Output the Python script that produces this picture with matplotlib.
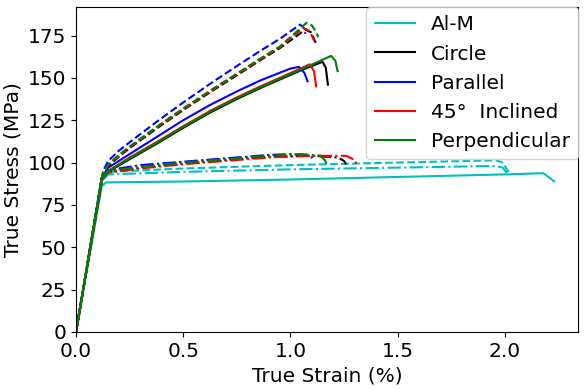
import matplotlib
matplotlib.use('Agg')
import matplotlib.pyplot as plt
from matplotlib.lines import Line2D

# legend entries and colours
labels = ['Al-M', 'Circle', 'Parallel', '45°  Inclined', 'Perpendicular']
colors = ['c', 'k', 'b', 'r', 'g']

# Al-M curves (strain %, stress MPa)
alm_solid_x = [0, 0.12, 0.14, 0.5, 1.0, 1.5, 2.0, 2.18, 2.23]
alm_solid_y = [0, 86, 88.3, 88.8, 90, 91.5, 93, 93.7, 89]
alm_dash_x = [0, 0.12, 0.15, 0.5, 1.0, 1.5, 1.96, 1.99, 2.02]
alm_dash_y = [0, 90, 94.5, 96.5, 98.5, 100, 101.3, 100, 94]
alm_dashdot_x = [0, 0.12, 0.15, 0.5, 1.0, 1.5, 1.96, 1.99, 2.01]
alm_dashdot_y = [0, 89, 93, 94.5, 96, 97, 98, 97, 94]

# Circle
circle_solid_x = [0, 0.12, 0.15, 0.25, 0.375, 0.5, 0.625, 0.75, 0.86, 0.95, 1.05, 1.15, 1.165, 1.175]
circle_solid_y = [0, 90, 94.5, 102, 111, 120.5, 129.5, 137.5, 144, 149, 154.5, 159.5, 156, 146]
circle_dash_x = [0, 0.126, 0.15, 0.2, 0.25, 0.375, 0.5, 0.625, 0.75, 0.86, 0.95, 1.07, 1.095, 1.11, 1.12]
circle_dash_y = [0, 93, 98, 103.5, 108.5, 120, 131, 141.5, 151.5, 160.5, 167.5, 178.5, 177, 173, 170]
circle_dashdot_x = [0, 0.12, 0.15, 0.3, 0.5, 0.7, 0.9, 1.1, 1.22, 1.25, 1.26]
circle_dashdot_y = [0, 91, 94.5, 97, 99.5, 101.5, 103.5, 104, 103, 101, 99]

# Parallel
parallel_solid_x = [0, 0.12, 0.15, 0.25, 0.375, 0.5, 0.625, 0.75, 0.86, 0.95, 1.0, 1.04, 1.065, 1.08]
parallel_solid_y = [0, 91, 97, 105, 115, 125, 134, 142, 148.5, 153, 155.5, 156.5, 153, 148]
parallel_dash_x = [0, 0.126, 0.15, 0.2, 0.25, 0.375, 0.5, 0.625, 0.75, 0.86, 0.95, 1.045, 1.06, 1.07]
parallel_dash_y = [0, 95, 101, 107, 112, 124, 135.5, 146.5, 157, 166, 173, 181.5, 180, 176]
parallel_dashdot_x = [0, 0.12, 0.15, 0.3, 0.5, 0.7, 0.9, 1.0, 1.07, 1.1, 1.11]
parallel_dashdot_y = [0, 91, 95.5, 98.5, 100.5, 102.5, 104.5, 105, 104.5, 103, 101]

# 45 deg inclined
incl_solid_x = [0, 0.12, 0.15, 0.25, 0.375, 0.5, 0.625, 0.75, 0.86, 0.95, 1.02, 1.09, 1.11, 1.12]
incl_solid_y = [0, 90.5, 95, 103, 112, 121.5, 130.5, 138.5, 145, 150, 154, 158, 154, 145]
incl_dash_x = [0, 0.126, 0.15, 0.2, 0.25, 0.375, 0.5, 0.625, 0.75, 0.86, 0.95, 1.06, 1.085, 1.1, 1.11]
incl_dash_y = [0, 93.5, 98.5, 104, 109, 120.5, 131.5, 142, 152, 161, 168, 179.5, 178, 175, 172]
incl_dashdot_x = [0, 0.12, 0.15, 0.3, 0.5, 0.7, 0.9, 1.1, 1.26, 1.3, 1.31]
incl_dashdot_y = [0, 90.5, 94, 96.5, 99, 101, 103, 104, 104, 101.5, 98.6]

# Perpendicular
perp_solid_x = [0, 0.12, 0.15, 0.25, 0.375, 0.5, 0.625, 0.75, 0.86, 0.95, 1.05, 1.19, 1.21, 1.22]
perp_solid_y = [0, 90.5, 95, 102.5, 111.5, 121, 130, 138, 144.5, 149.5, 155, 163, 160, 154]
perp_dash_x = [0, 0.126, 0.15, 0.2, 0.25, 0.375, 0.5, 0.625, 0.75, 0.86, 0.95, 1.075, 1.1, 1.12, 1.13]
perp_dash_y = [0, 94, 99, 104.5, 109.5, 121, 132, 142.5, 152.5, 161.5, 168.5, 182.5, 181, 177, 174]
perp_dashdot_x = [0, 0.12, 0.15, 0.3, 0.5, 0.7, 0.9, 1.05, 1.14, 1.16, 1.17]
perp_dashdot_y = [0, 91, 95, 97.5, 100, 102, 104, 105, 104, 101.5, 99]

curves = [
    (alm_solid_x, alm_solid_y, alm_dash_x, alm_dash_y, alm_dashdot_x, alm_dashdot_y),
    (circle_solid_x, circle_solid_y, circle_dash_x, circle_dash_y, circle_dashdot_x, circle_dashdot_y),
    (parallel_solid_x, parallel_solid_y, parallel_dash_x, parallel_dash_y, parallel_dashdot_x, parallel_dashdot_y),
    (incl_solid_x, incl_solid_y, incl_dash_x, incl_dash_y, incl_dashdot_x, incl_dashdot_y),
    (perp_solid_x, perp_solid_y, perp_dash_x, perp_dash_y, perp_dashdot_x, perp_dashdot_y),
]

plt.rcParams['font.size'] = 14.5

fig = plt.figure(figsize=(5.85, 3.9), dpi=100)
ax = fig.add_axes([0.13, 0.149, 0.858, 0.832])

for (sx, sy, dx, dy, ddx, ddy), c in zip(curves, colors):
    ax.plot(sx, sy, color=c, linestyle='-')
    ax.plot(dx, dy, color=c, linestyle='--')
    ax.plot(ddx, ddy, color=c, linestyle='-.')

ax.set_xlim(left=0)
ax.set_ylim(bottom=0)
ax.set_xlabel('True Strain (%)')
ax.set_ylabel('True Stress (MPa)')

handles = [Line2D([], [], color=c) for c in colors]
ax.legend(handles, labels, loc='upper right', borderaxespad=0)

fig.savefig('out.png', dpi=100)
